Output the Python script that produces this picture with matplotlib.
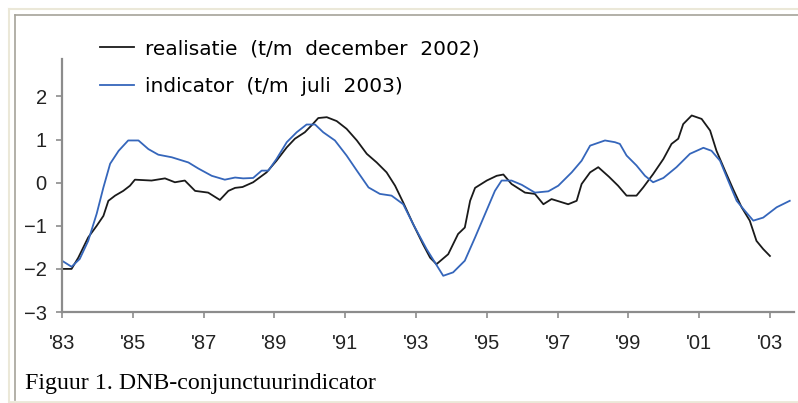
import matplotlib
matplotlib.use('Agg')
import matplotlib.pyplot as plt
from matplotlib.lines import Line2D

# realisatie (t/m december 2002)
real_x = [1983.0, 1983.27, 1983.46, 1983.74, 1983.98, 1984.17, 1984.31, 1984.5, 1984.73, 1984.92,
          1985.06, 1985.53, 1985.91, 1986.19, 1986.47, 1986.76, 1987.13, 1987.46, 1987.70, 1987.89,
          1988.10, 1988.40, 1988.78, 1989.06, 1989.35, 1989.58, 1989.86, 1990.05, 1990.24, 1990.48,
          1990.76, 1991.04, 1991.33, 1991.61, 1991.89, 1992.17, 1992.41, 1992.64, 1992.92, 1993.20,
          1993.40, 1993.58, 1993.91, 1994.19, 1994.38, 1994.53, 1994.67, 1995.00, 1995.28, 1995.47,
          1995.70, 1996.08, 1996.36, 1996.60, 1996.83, 1997.30, 1997.54, 1997.68, 1997.92, 1998.15,
          1998.45, 1998.71, 1998.95, 1999.23, 1999.42, 1999.70, 1999.99, 2000.22, 2000.41, 2000.55,
          2000.79, 2001.07, 2001.31, 2001.49, 2001.73, 2001.96, 2002.20, 2002.43, 2002.62, 2002.81,
          2003.00]
real_y = [-2.0, -2.0, -1.74, -1.27, -1.0, -0.77, -0.42, -0.30, -0.19, -0.07,
          0.07, 0.05, 0.10, 0.01, 0.05, -0.19, -0.23, -0.40, -0.19, -0.12,
          -0.10, 0.01, 0.24, 0.51, 0.82, 1.02, 1.17, 1.33, 1.50, 1.52,
          1.43, 1.25, 0.98, 0.67, 0.47, 0.24, -0.07, -0.46, -0.96, -1.43,
          -1.74, -1.89, -1.66, -1.19, -1.04, -0.42, -0.12, 0.05, 0.16, 0.19,
          -0.03, -0.23, -0.26, -0.50, -0.38, -0.50, -0.42, -0.03, 0.24, 0.36,
          0.14, -0.07, -0.30, -0.30, -0.11, 0.20, 0.55, 0.90, 1.02, 1.36,
          1.56, 1.48, 1.21, 0.74, 0.28, -0.15, -0.57, -0.88, -1.35, -1.54,
          -1.70]

# indicator (t/m juli 2003)
ind_x = [1983.0, 1983.27, 1983.5, 1983.74, 1983.98, 1984.17, 1984.36, 1984.6, 1984.87, 1985.16,
         1985.44, 1985.72, 1986.1, 1986.57, 1986.85, 1987.23, 1987.6, 1987.89, 1988.12, 1988.40,
         1988.64, 1988.83, 1989.06, 1989.35, 1989.63, 1989.91, 1990.15, 1990.38, 1990.71, 1991.04,
         1991.33, 1991.66, 1991.98, 1992.31, 1992.64, 1992.92, 1993.30, 1993.77, 1994.05, 1994.38,
         1994.67, 1994.95, 1995.23, 1995.42, 1995.70, 1995.99, 1996.36, 1996.74, 1997.02, 1997.40,
         1997.68, 1997.92, 1998.34, 1998.62, 1998.76, 1998.95, 1999.23, 1999.47, 1999.70, 1999.99,
         2000.36, 2000.74, 2001.12, 2001.35, 2001.59, 2001.82, 2002.06, 2002.29, 2002.53, 2002.81,
         2003.19, 2003.56]
ind_y = [-1.81, -1.95, -1.77, -1.35, -0.72, -0.11, 0.44, 0.74, 0.98, 0.98,
         0.78, 0.65, 0.59, 0.47, 0.33, 0.16, 0.07, 0.12, 0.10, 0.11,
         0.28, 0.28, 0.55, 0.94, 1.17, 1.35, 1.35, 1.17, 0.98, 0.63,
         0.28, -0.11, -0.26, -0.30, -0.50, -0.96, -1.54, -2.16, -2.08, -1.81,
         -1.27, -0.73, -0.19, 0.05, 0.05, -0.05, -0.23, -0.20, -0.07, 0.24,
         0.51, 0.86, 0.98, 0.94, 0.90, 0.63, 0.40, 0.16, 0.01, 0.11,
         0.36, 0.67, 0.81, 0.74, 0.51, 0.05, -0.42, -0.65, -0.88, -0.81,
         -0.57, -0.42]

xticks = [1983, 1985, 1987, 1989, 1991, 1993, 1995, 1997, 1999, 2001, 2003]
xlabels = ["'83", "'85", "'87", "'89", "'91", "'93", "'95", "'97", "'99", "'01", "'03"]
yticks = [-3, -2, -1, 0, 1, 2]

W, H = 798, 403


def fx(px):
    return px / W


def fy(py):
    return 1 - py / H


fig = plt.figure(figsize=(W / 100, H / 100), dpi=100)
ax = fig.add_axes([fx(62), fy(312), fx(794) - fx(62), fy(59) - fy(312)])

ax.plot(real_x, real_y, color='#1a1a1a', lw=1.3, label='realisatie  (t/m  december  2002)')
ax.plot(ind_x, ind_y, color='#3566bb', lw=1.3, label='indicator  (t/m  juli  2003)')

ax.set_xlim(1983, 2003.68)
ax.set_ylim(-3, 2.87)
ax.set_xticks(xticks)
ax.set_xticklabels(xlabels)
ax.set_yticks(yticks)

grey = '#8c8c8c'
for s in ['top', 'right']:
    ax.spines[s].set_visible(False)
for s in ['left', 'bottom']:
    ax.spines[s].set_color(grey)
    ax.spines[s].set_linewidth(1.6)
ax.tick_params(axis='both', colors=grey, length=4, width=1.2, direction='out',
               labelcolor='#222222', labelsize=14.5)
ax.tick_params(axis='x', pad=12)
ax.tick_params(axis='y', pad=7)
for lab in ax.get_xticklabels() + ax.get_yticklabels():
    lab.set_family('Liberation Sans')

fig.legend(loc='upper left', bbox_to_anchor=(fx(92), fy(31)), frameon=False,
           prop={'family': 'DejaVu Sans', 'size': 14.5}, handlelength=1.7,
           handletextpad=0.55, labelspacing=0.95, borderaxespad=0)

fig.text(fx(25), fy(389), 'Figuur 1. DNB-conjunctuurindicator', family='Liberation Serif',
         fontsize=17.2, color='black', va='baseline', ha='left')

# panel frame
fig.add_artist(Line2D([fx(9), fx(9)], [fy(9), fy(402)], color='#ebe8d8', lw=1.5))
fig.add_artist(Line2D([fx(9), fx(798)], [fy(9), fy(9)], color='#ebe8d8', lw=1.5))
fig.add_artist(Line2D([fx(9), fx(798)], [fy(401.5), fy(401.5)], color='#ebe8d8', lw=2))
fig.add_artist(Line2D([fx(15), fx(15)], [fy(15), fy(400)], color='#a5a39a', lw=1.2))
fig.add_artist(Line2D([fx(15), fx(798)], [fy(15), fy(15)], color='#a5a39a', lw=1.2))

fig.savefig('out.png', dpi=100)
